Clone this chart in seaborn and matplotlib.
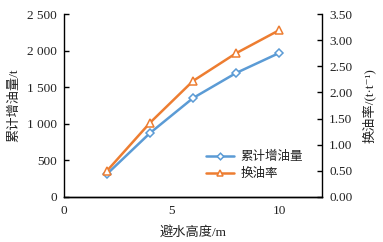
import seaborn as sns
import matplotlib.pyplot as plt
import pandas as pd
from matplotlib.ticker import FuncFormatter

height = [2, 4, 6, 8, 10]
oil_total = [314, 874, 1352, 1694, 1967]
oil_rate = [0.50, 1.42, 2.22, 2.75, 3.19]
name_total = "累计增油量"
name_rate = "换油率"

sns.set_style("white")
plt.rcParams['font.family'] = ['Liberation Serif', 'Noto Sans CJK SC', 'DejaVu Sans']

df = pd.DataFrame({"h": height, "total": oil_total, "rate": oil_rate})

fig = plt.figure(figsize=(3.83, 2.42), dpi=100)
ax = fig.add_axes([0.167, 0.186, 0.674, 0.756])
ax2 = ax.twinx()

blue = "#5B9BD5"
orange = "#ED7D31"
txt = "#222222"

sns.lineplot(data=df, x="h", y="total", ax=ax, color=blue, lw=1.8,
             marker="D", markersize=4.5, markerfacecolor="white",
             markeredgecolor=blue, markeredgewidth=1.1, label=name_total, legend=False)
sns.lineplot(data=df, x="h", y="rate", ax=ax2, color=orange, lw=1.8,
             marker="^", markersize=5.5, markerfacecolor="white",
             markeredgecolor=orange, markeredgewidth=1.1, label=name_rate, legend=False)

ax.set_xlim(0, 12)
ax.set_ylim(0, 2500)
ax2.set_ylim(0, 3.5)
ax.set_xticks([0, 5, 10])
ax.set_yticks(range(0, 2501, 500))
ax2.set_yticks([i * 0.5 for i in range(8)])
ax.yaxis.set_major_formatter(FuncFormatter(lambda v, p: f"{int(v):,}".replace(",", " ")))
ax2.yaxis.set_major_formatter(FuncFormatter(lambda v, p: f"{v:.2f}"))

for a in (ax, ax2):
    a.spines['top'].set_visible(False)
    for s in ('left', 'right', 'bottom'):
        a.spines[s].set_color('black')
        a.spines[s].set_linewidth(1.0)
    a.tick_params(direction='in', length=3.5, width=1, color='black',
                  labelcolor=txt, labelsize=9.5)
ax2.spines['left'].set_visible(False)
ax.spines['right'].set_visible(False)
ax.tick_params(axis='x', pad=6)
ax.tick_params(axis='y', pad=5)
ax2.tick_params(axis='y', pad=5)

ax.set_xlabel("避水高度/m", fontsize=9.5, labelpad=6, color=txt)
ax.set_ylabel("累计增油量/t", fontsize=9.5, labelpad=5, color=txt)
ax2.set_ylabel("换油率/(t·t⁻¹)", fontsize=9.5, labelpad=7, color=txt)

h1, l1 = ax.get_legend_handles_labels()
h2, l2 = ax2.get_legend_handles_labels()
leg = ax.legend(h1 + h2, l1 + l2, loc='lower right', bbox_to_anchor=(0.97, 0.03),
                frameon=False, fontsize=9, handlelength=2.3, labelspacing=0.4,
                handletextpad=0.5, markerscale=0.75)
for t in leg.get_texts():
    t.set_color(txt)

fig.savefig("out.png", dpi=100)
